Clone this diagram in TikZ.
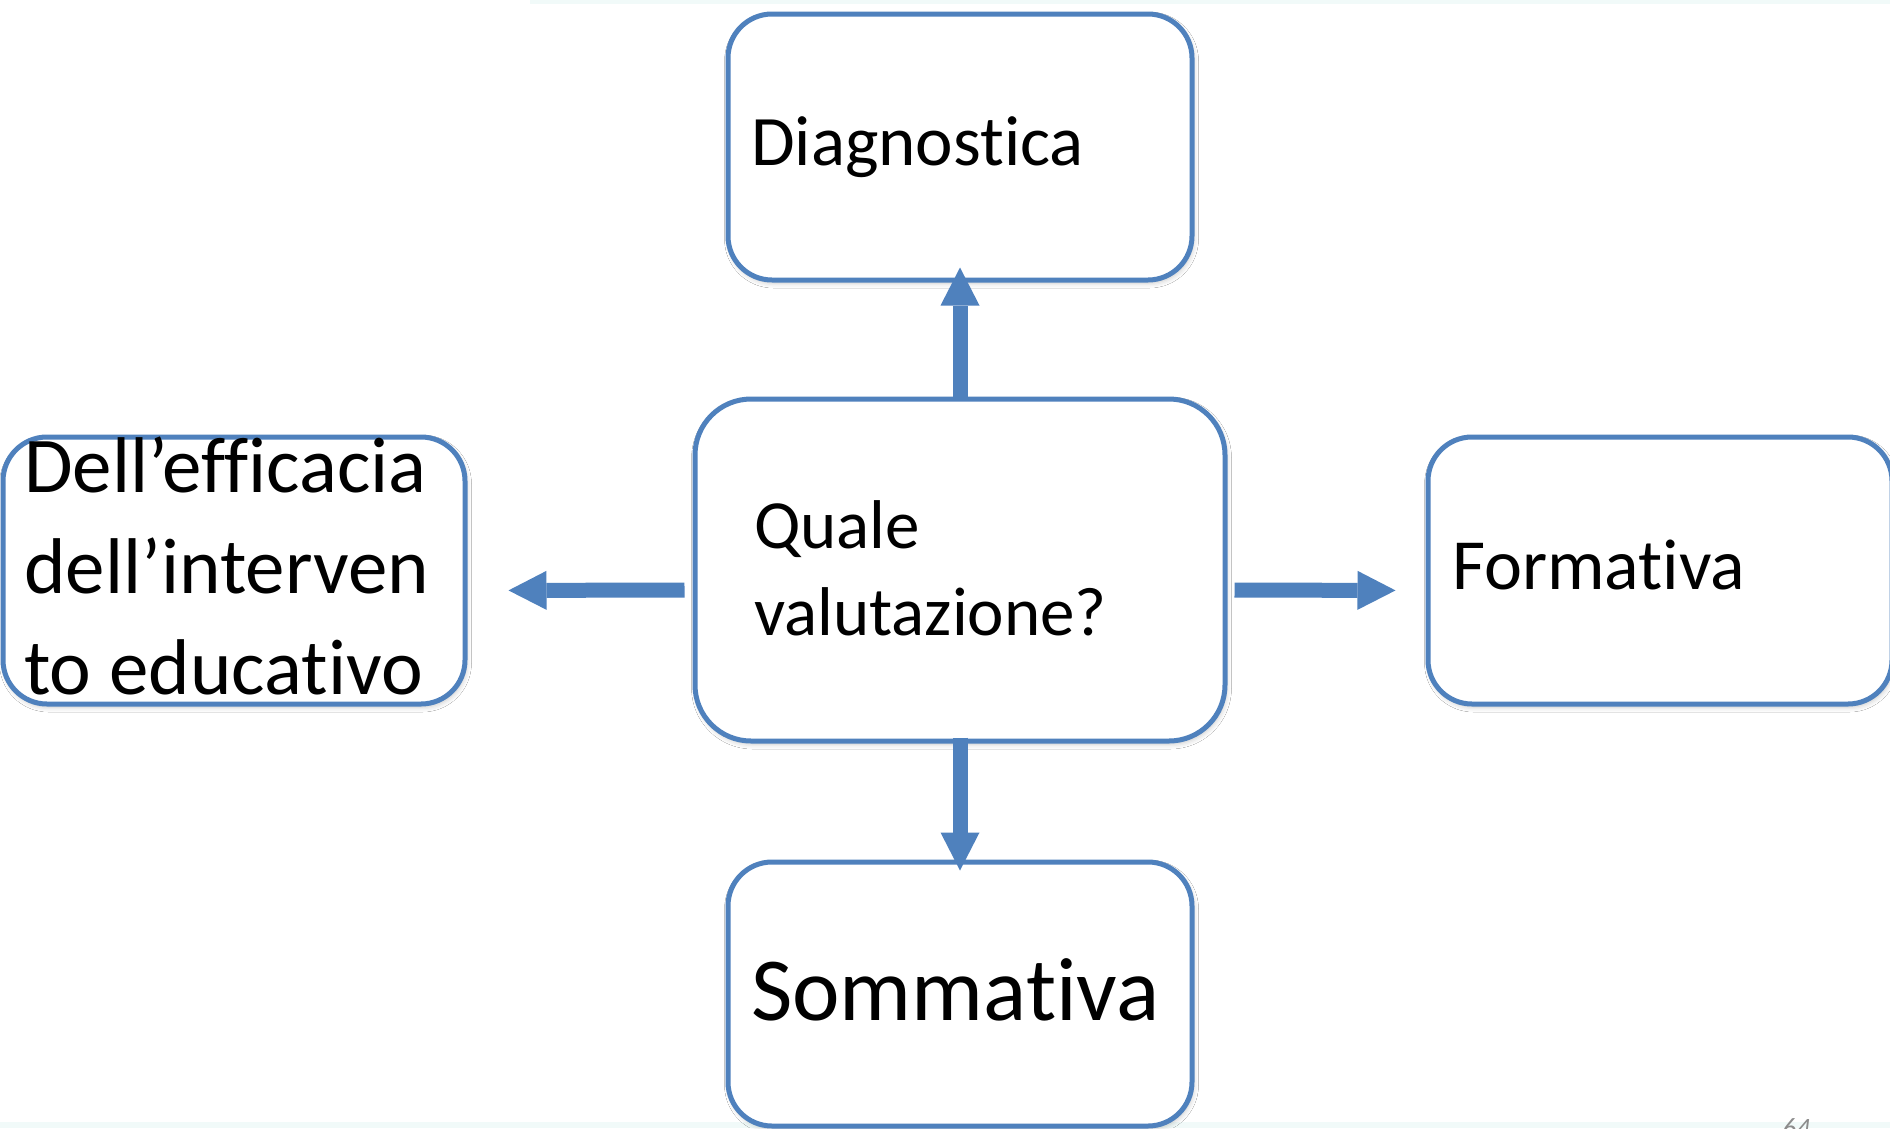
\documentclass[tikz,border=0pt]{standalone}
\usepackage{fontspec}
\setmainfont{Carlito}[Renderer=OpenType, RawFeature={-liga;-clig;-calt;-dlig;-rlig;-hlig}]
\usetikzlibrary{arrows.meta,shadows.blur}
\definecolor{boxblue}{HTML}{4F81BD}
\definecolor{palestrip}{HTML}{F1FAF9}
\begin{document}
\begin{tikzpicture}[x=1pt,y=-1pt,
  card/.style={draw=boxblue, line width=5pt, fill=white, rectangle, inner sep=0pt,
    blur shadow={shadow xshift=1.5pt, shadow yshift=-3pt, shadow blur radius=5pt, shadow opacity=22}},
  label/.style={anchor=base west, inner sep=0pt, align=left, text=black},
  bigarrow/.style={draw=boxblue, line width=15pt,
    -{Triangle[length=38pt, width=39pt, line width=0pt]}}]

% page frame
\useasboundingbox (0,0) rectangle (1890,1128);
\fill[white] (0,0) rectangle (1890,1128);
\fill[palestrip] (530,0) rectangle (1890,4);
\fill[palestrip] (0,1122) rectangle (1890,1128);

% the five rounded boxes
\node[card, minimum width=464pt, minimum height=266pt, rounded corners=44pt] (diag) at (960,147) {};
\node[card, minimum width=530pt, minimum height=342pt, rounded corners=56pt] (quale) at (960,570) {};
\node[card, minimum width=462pt, minimum height=267pt, rounded corners=44pt] (effic) at (234,570.5) {};
\node[card, minimum width=464pt, minimum height=267pt, rounded corners=44pt] (form) at (1660,570.5) {};
\node[card, minimum width=464pt, minimum height=264pt, rounded corners=44pt] (somm) at (960,994) {};

% box texts (multi-line labels are placed by their last baseline)
\node[label, font=\fontsize{71}{87}\selectfont] (diagtxt) at (751,165) {Diagnostica};
\node[label, font=\fontsize{69}{87}\selectfont] (qualetxt) at (754,635) {Quale\\valutazione?};
\node[label, font=\fontsize{79}{101}\selectfont] (effictxt) at (24,694) {Dell’efficacia\\dell’interven\\to educativo};
\node[label, font=\fontsize{72}{88}\selectfont] (formtxt) at (1452,589) {Formativa};
\node[label, font=\fontsize{90}{110}\selectfont] (sommtxt) at (751,1020) {Sommativa};

% block arrows from the centre
\draw[bigarrow, shorten <=-3pt, shorten >=-15pt] (quale.north) -- (diag.south);
\draw[bigarrow, shorten <=-6pt, shorten >=-11pt] (quale.south) -- (somm.north);
\draw[bigarrow, shorten <=8pt, shorten >=41pt] ([yshift=-20pt]quale.west) -- ([yshift=-20pt]effic.east);
\draw[bigarrow, shorten <=7pt, shorten >=30pt] ([yshift=-20pt]quale.east) -- ([yshift=-20pt]form.west);

% page number
\node[anchor=base west, inner sep=0pt, text=black!45, font=\fontsize{28}{34}\selectfont\itshape] (pgnum) at (1782,1137) {64};
\end{tikzpicture}
\end{document}
